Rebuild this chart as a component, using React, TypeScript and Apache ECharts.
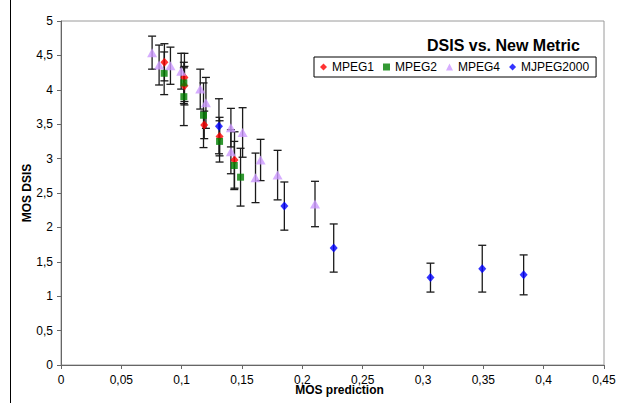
import React, { useEffect, useRef } from "react";
import * as echarts from "echarts";

const seriesNames = ["MPEG1", "MPEG2", "MPEG4", "MJPEG2000"];
const seriesColors = ["#FF0000", "#008000", "#CC99FF", "#0000FF"];
const seriesSymbols = ["diamond", "rect", "triangle", "diamond"];
const seriesSymbolSizes: any[] = [[8, 9], 7, [10, 9], [8, 9]];

// MPEG1
const mpeg1X = [0.0857, 0.1023, 0.1023, 0.1187, 0.1314, 0.1438];
const mpeg1Y = [4.4, 4.18, 4.06, 3.49, 3.32, 2.98];
const mpeg1Err = [0.27, 0.35, 0.28, 0.2, 0.28, 0.41];

// MPEG2
const mpeg2X = [0.0855, 0.1018, 0.1018, 0.1181, 0.1314, 0.1436, 0.1488];
const mpeg2Y = [4.24, 4.1, 3.9, 3.63, 3.25, 2.9, 2.73];
const mpeg2Err = [0.31, 0.3, 0.42, 0.47, 0.3, 0.35, 0.42];

// MPEG4
const mpeg4X = [0.0755, 0.0813, 0.0907, 0.0996, 0.1154, 0.1201, 0.1408, 0.1505, 0.1408, 0.1612, 0.1654, 0.1795, 0.2105];
const mpeg4Y = [4.54, 4.36, 4.35, 4.27, 4.01, 3.81, 3.45, 3.38, 3.1, 2.72, 2.98, 2.76, 2.34];
const mpeg4Err = [0.24, 0.29, 0.27, 0.26, 0.29, 0.37, 0.28, 0.36, 0.32, 0.36, 0.3, 0.36, 0.33];

// MJPEG2000
const mjpegX = [0.1309, 0.1851, 0.226, 0.3062, 0.3491, 0.3834];
const mjpegY = [3.47, 2.31, 1.7, 1.27, 1.4, 1.31];
const mjpegErr = [0.4, 0.35, 0.35, 0.21, 0.34, 0.29];

const xTicks = { min: 0, max: 0.45, interval: 0.05 };
const yTicks = { min: 0, max: 5, interval: 0.5 };

const groups = [
  { x: mpeg1X, y: mpeg1Y, e: mpeg1Err },
  { x: mpeg2X, y: mpeg2Y, e: mpeg2Err },
  { x: mpeg4X, y: mpeg4Y, e: mpeg4Err },
  { x: mjpegX, y: mjpegY, e: mjpegErr },
];

const fmt = (v: number) => String(Number(v.toFixed(2))).replace(".", ",");
const FONT = "'Liberation Sans', Arial, sans-serif";

export default function App() {
  const ref = useRef<HTMLDivElement>(null);
  useEffect(() => {
    if (!ref.current) return;
    const chart = echarts.init(ref.current, null, { renderer: "svg" });

    const errSeries = groups.map((g, gi) => ({
      type: "custom",
      name: "err" + gi,
      z: 1,
      silent: true,
      data: g.x.map((x, i) => [x, g.y[i] - g.e[i], g.y[i] + g.e[i]]),
      encode: { x: 0, y: [1, 2] },
      renderItem: (params: any, api: any) => {
        const lo = api.coord([api.value(0), api.value(1)]);
        const hi = api.coord([api.value(0), api.value(2)]);
        const w = 4;
        const style = { stroke: "#1a1a1a", lineWidth: 1.3 };
        return {
          type: "group",
          children: [
            { type: "line", shape: { x1: lo[0], y1: lo[1], x2: hi[0], y2: hi[1] }, style },
            { type: "line", shape: { x1: lo[0] - w, y1: lo[1], x2: lo[0] + w, y2: lo[1] }, style },
            { type: "line", shape: { x1: hi[0] - w, y1: hi[1], x2: hi[0] + w, y2: hi[1] }, style },
          ],
        };
      },
    }));

    const scatterSeries = groups.map((g, gi) => ({
      type: "scatter",
      name: seriesNames[gi],
      z: 3,
      symbol: seriesSymbols[gi],
      symbolSize: seriesSymbolSizes[gi],
      itemStyle: { color: seriesColors[gi] },
      data: g.x.map((x, i) => [x, g.y[i]]),
    }));

    chart.setOption({
      animation: false,
      backgroundColor: "#ffffff",
      title: {
        text: "DSIS vs. New Metric",
        left: 422,
        top: 32,
        textStyle: { fontFamily: FONT, fontSize: 16, fontWeight: "bold", color: "#000" },
      },
      legend: {
        data: seriesNames.map((n, i) => ({ name: n, icon: seriesSymbols[i] })),
        left: 314,
        top: 57,
        padding: [4, 7, 4, 6],
        itemGap: 9,
        itemWidth: 7,
        itemHeight: 7,
        borderColor: "#000",
        borderWidth: 1,
        textStyle: { fontFamily: FONT, fontSize: 12, color: "#000" },
      },
      grid: {
        left: 61,
        right: 13,
        top: 21,
        bottom: 38,
        outerBoundsMode: "none",
        containLabel: false,
        show: true,
        borderColor: "#9a9a9a",
        borderWidth: 1,
        backgroundColor: "#fff",
      },
      xAxis: {
        type: "value",
        min: xTicks.min,
        max: xTicks.max,
        interval: xTicks.interval,
        name: "MOS prediction",
        nameLocation: "middle",
        nameGap: 19,
        nameMoveOverlap: false,
        nameTextStyle: { fontFamily: FONT, fontSize: 12, fontWeight: "bold", color: "#000", padding: [0, 0, 0, 14] },
        splitLine: { show: false },
        axisLine: { lineStyle: { color: "#666", width: 1 } },
        axisTick: { show: true, length: 4, lineStyle: { color: "#666" } },
        axisLabel: { formatter: fmt, fontFamily: FONT, fontSize: 12, color: "#000", margin: 9 },
      },
      yAxis: {
        type: "value",
        min: yTicks.min,
        max: yTicks.max,
        interval: yTicks.interval,
        name: "MOS DSIS",
        nameLocation: "middle",
        nameRotate: 90,
        nameGap: 28,
        nameMoveOverlap: false,
        nameTextStyle: { fontFamily: FONT, fontSize: 12, fontWeight: "bold", color: "#000" },
        splitLine: { show: false },
        axisLine: { show: true, lineStyle: { color: "#666", width: 1 } },
        axisTick: { show: true, length: 4, lineStyle: { color: "#666" } },
        axisLabel: { formatter: fmt, fontFamily: FONT, fontSize: 12, color: "#000", margin: 8 },
      },
      graphic: [
        { type: "line", shape: { x1: 10.5, y1: 0, x2: 10.5, y2: 403 }, style: { stroke: "#000", lineWidth: 1 }, z: 10 },
      ],
      series: [...errSeries, ...scatterSeries],
    });
    return () => chart.dispose();
  }, []);
  return <div ref={ref} style={{ position: "fixed", left: 0, top: 0, width: 617, height: 403 }} />;
}
